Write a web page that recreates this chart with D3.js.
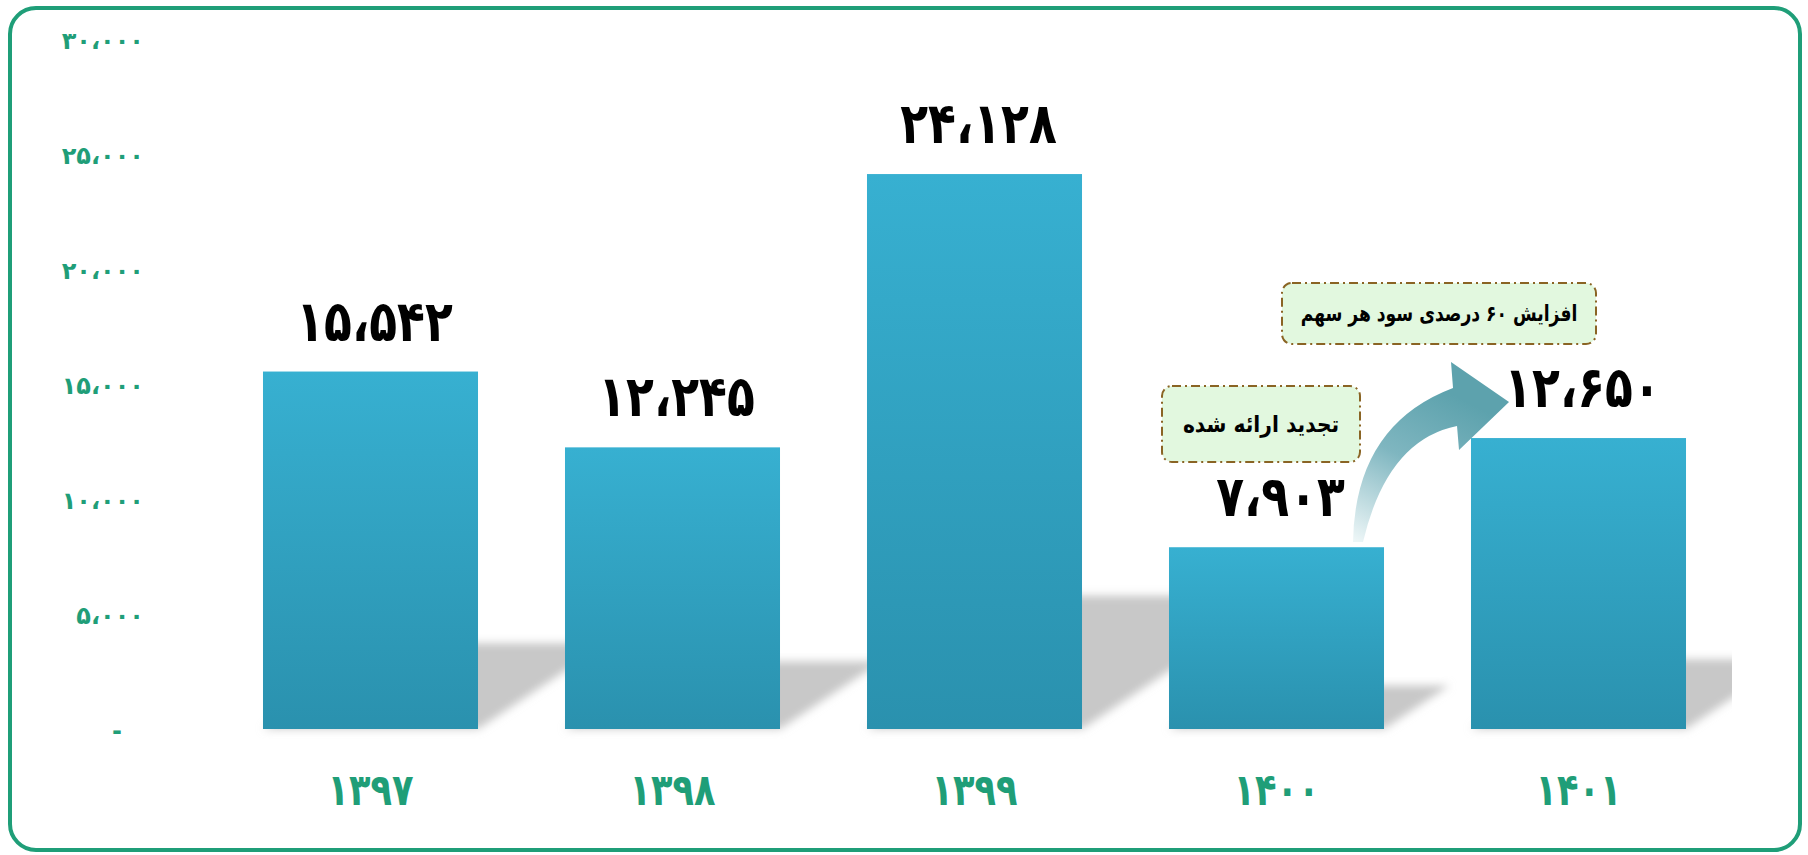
<!DOCTYPE html>
<html>
<head>
<meta charset="utf-8">
<script src="https://cdnjs.cloudflare.com/ajax/libs/d3/7.8.5/d3.min.js"></script>
<style>
  body { margin: 0; background: #fff; }
  text { font-family: "DejaVu Sans", sans-serif; font-weight: bold; }
  .axis .domain { display: none; }
  .axis line { display: none; }
</style>
</head>
<body>
<div id="chart"></div>
<script>
// chart data
var years = ["۱۳۹۷", "۱۳۹۸", "۱۳۹۹", "۱۴۰۰", "۱۴۰۱"];
var values = [15542, 12245, 24128, 7903, 12650];
var valueLabels = ["۱۵،۵۴۲", "۱۲،۲۴۵", "۲۴،۱۲۸", "۷،۹۰۳", "۱۲،۶۵۰"];
var yTicks = [0, 5000, 10000, 15000, 20000, 25000, 30000];
var yTickLabels = ["-", "۵،۰۰۰", "۱۰،۰۰۰", "۱۵،۰۰۰", "۲۰،۰۰۰", "۲۵،۰۰۰", "۳۰،۰۰۰"];
var noteRestated = "تجدید ارائه شده";
var noteGrowth = "افزایش ۶۰ درصدی سود هر سهم";

var width = 1808, height = 855;
var green = "#1f9e78";

var svg = d3.select("#chart").append("svg")
    .attr("width", width)
    .attr("height", height);

var defs = svg.append("defs");

var barGrad = defs.append("linearGradient")
    .attr("id", "barGrad")
    .attr("x1", 0).attr("y1", 0).attr("x2", 0).attr("y2", 1);
barGrad.append("stop").attr("offset", "0%").attr("stop-color", "#37b0d1");
barGrad.append("stop").attr("offset", "100%").attr("stop-color", "#2a91ae");

defs.append("filter")
    .attr("id", "blur")
    .attr("x", "-20%").attr("y", "-20%").attr("width", "140%").attr("height", "140%")
  .append("feGaussianBlur")
    .attr("stdDeviation", 4);

defs.append("clipPath")
    .attr("id", "plotClip")
  .append("rect")
    .attr("x", 150).attr("y", 0).attr("width", 1732 - 150).attr("height", 740);

// outer frame
svg.append("rect")
    .attr("x", 10).attr("y", 8)
    .attr("width", 1790).attr("height", 842)
    .attr("rx", 26).attr("ry", 26)
    .attr("fill", "#fff")
    .attr("stroke", green)
    .attr("stroke-width", 4);

// scales
var x = d3.scaleBand()
    .domain(years)
    .range([219.5, 1729.5])
    .paddingInner(0.288)
    .paddingOuter(0.144);

var y = d3.scaleLinear()
    .domain([0, 30000])
    .range([729, 39]);

var bottom = y(0);

// the persian font is narrower than DejaVu, so squeeze text horizontally
function squeeze(sel, cx, cy, sx) {
  sel.attr("x", 0).attr("y", 0)
     .attr("transform", "translate(" + cx + "," + cy + ") scale(" + sx + ",1)");
}

// y axis
var yAxis = d3.axisLeft(y)
    .tickValues(yTicks)
    .tickSize(0)
    .tickPadding(0)
    .tickFormat(function (d, i) { return yTickLabels[i]; });

var gy = svg.append("g")
    .attr("class", "axis y")
    .attr("transform", "translate(144,0)")
    .call(yAxis);
gy.selectAll("text")
    .attr("fill", green)
    .style("font-size", "24px")
    .attr("dy", "0.4em")
    .attr("x", function (d) { return d === 0 ? -22 : 0; });

// perspective shadows behind bars
svg.append("g")
    .attr("clip-path", "url(#plotClip)")
  .selectAll("path")
  .data(values)
  .enter().append("path")
    .attr("fill", "#c8c8c8")
    .attr("filter", "url(#blur)")
    .attr("d", function (d, i) {
      var x0 = x(years[i]), x1 = x0 + x.bandwidth();
      var H = bottom - y(d);
      var h = 0.24 * H, s = 0.36 * H;
      return "M" + x0 + "," + bottom + "L" + x1 + "," + bottom +
             "L" + (x1 + s) + "," + (bottom - h) + "L" + (x0 + s) + "," + (bottom - h) + "Z";
    });

// bars
svg.append("g")
  .selectAll("rect")
  .data(values)
  .enter().append("rect")
    .attr("x", function (d, i) { return x(years[i]); })
    .attr("y", function (d) { return y(d); })
    .attr("width", x.bandwidth())
    .attr("height", function (d) { return bottom - y(d); })
    .attr("fill", "url(#barGrad)");

// value labels
svg.append("g")
  .selectAll("text")
  .data(values)
  .enter().append("text")
    .attr("text-anchor", "middle")
    .attr("fill", "#000")
    .style("font-size", "57px")
    .text(function (d, i) { return valueLabels[i]; })
    .each(function (d, i) {
      squeeze(d3.select(this), x(years[i]) + x.bandwidth() / 2 + 4, y(d) - 31, 0.8);
    });

// x axis
var xAxis = d3.axisBottom(x)
    .tickSize(0)
    .tickPadding(0);

var gx = svg.append("g")
    .attr("class", "axis x")
    .attr("transform", "translate(0," + bottom + ")")
    .call(xAxis);
// tick groups are already translated to the band centre
gx.selectAll("text")
    .attr("fill", green)
    .attr("dy", null)
    .style("font-size", "44px")
    .each(function () {
      squeeze(d3.select(this), 0, 76, 0.8);
    });

// curved arrow between 1400 and 1401
var a0 = x(years[3]) + x.bandwidth();   // right edge of 1400 bar
var arrowGrad = defs.append("linearGradient")
    .attr("id", "arrowGrad")
    .attr("gradientUnits", "userSpaceOnUse")
    .attr("x1", a0 - 20).attr("y1", 545)
    .attr("x2", a0 + 60).attr("y2", 390);
arrowGrad.append("stop").attr("offset", "0%").attr("stop-color", "#edf6f7");
arrowGrad.append("stop").attr("offset", "55%").attr("stop-color", "#7fb6c0");
arrowGrad.append("stop").attr("offset", "100%").attr("stop-color", "#5da2ad");

svg.append("path")
    .attr("fill", "url(#arrowGrad)")
    .attr("d", "M" + (a0 - 31) + ",542" +
               "Q" + (a0 - 29) + ",425 " + (a0 + 69) + ",388" +
               "L" + (a0 + 67) + ",362" +
               "L" + (a0 + 125) + ",402" +
               "L" + (a0 + 75) + ",450" +
               "L" + (a0 + 73) + ",426" +
               "Q" + (a0 + 3) + ",440 " + (a0 - 21) + ",542Z");

// note boxes
function noteBox(bx, by, bw, bh, label, size, sx) {
  var g = svg.append("g");
  g.append("rect")
      .attr("x", bx).attr("y", by)
      .attr("width", bw).attr("height", bh)
      .attr("rx", 10).attr("ry", 10)
      .attr("fill", "#e2f8df")
      .attr("stroke", "#8a6424")
      .attr("stroke-width", 2)
      .attr("stroke-dasharray", "9,4,2,4");
  var t = g.append("text")
      .attr("dy", "0.35em")
      .attr("text-anchor", "middle")
      .attr("fill", "#000")
      .style("font-size", size + "px")
      .attr("direction", "rtl")
      .text(label);
  squeeze(t, bx + bw / 2, by + bh / 2, sx);
}
noteBox(1162, 386, 198, 76, noteRestated, 23, 0.88);
noteBox(1282, 283, 314, 61, noteGrowth, 22, 0.78);
</script>
</body>
</html>
